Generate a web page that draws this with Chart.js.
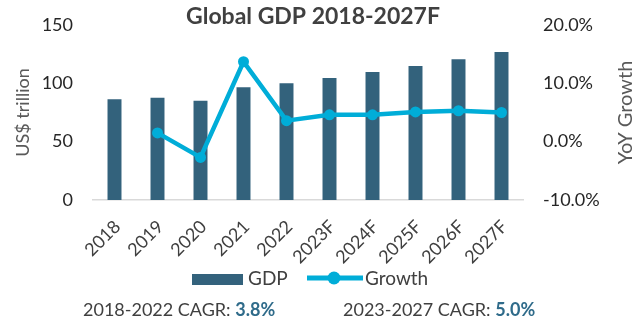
<!DOCTYPE html>
<html>
<head>
<meta charset="utf-8">
<title>Global GDP 2018-2027F</title>
<script src="https://cdn.jsdelivr.net/npm/chart.js@4.4.1/dist/chart.umd.min.js"></script>
<style>
    html, body { margin: 0; padding: 0; background: #fff; }
    #wrap { width: 633px; height: 320px; }
</style>
</head>
<body>
<div id="wrap"><canvas id="gdpChart" width="633" height="320"></canvas></div>
<script>
// Global GDP (US$ trillion) and year-on-year growth (%)
const years = ['2018', '2019', '2020', '2021', '2022', '2023F', '2024F', '2025F', '2026F', '2027F'];
const gdp = [86.3, 87.7, 85.1, 96.6, 100.0, 104.6, 109.7, 114.9, 120.6, 126.9];
const growth = [null, 1.5, -2.7, 13.7, 3.6, 4.6, 4.6, 5.1, 5.3, 5.0];

// axis ranges
const gdpAxis = { min: 0, max: 150, step: 50 };
const growthAxis = { min: -10, max: 20, step: 10 };

// CAGR footnote
const cagrPeriods = ['2018-2022', '2023-2027'];
const cagrValues = [3.8, 5.0];

const barColor = '#33627C';
const lineColor = '#00ADD8';
const textColor = '#404040';

Chart.defaults.font.family = 'Lato, "Open Sans", sans-serif';
Chart.defaults.color = textColor;

// title, right axis title (reads bottom-to-top), legend and the CAGR line
const extraText = {
    id: 'extraText',
    afterDraw(chart) {
        const ctx = chart.ctx;
        const area = chart.chartArea;
        const sets = chart.data.datasets;

        ctx.save();
        ctx.font = 'bold 23px Lato';
        ctx.fillStyle = textColor;
        ctx.textAlign = 'center';
        ctx.textBaseline = 'middle';
        ctx.fillText('Global GDP 2018-2027F', 313, 17);

        ctx.font = '20px Lato';
        ctx.fillStyle = '#595959';
        ctx.translate(626, (area.top + area.bottom) / 2);
        ctx.rotate(-Math.PI / 2);
        ctx.fillText('YoY Growth', 0, 0);
        ctx.restore();

        // legend
        ctx.save();
        const ly = 279;
        ctx.fillStyle = sets[0].backgroundColor;
        ctx.fillRect(192, ly - 5, 51, 11);
        ctx.strokeStyle = sets[1].borderColor;
        ctx.lineWidth = 5;
        ctx.beginPath();
        ctx.moveTo(307, ly - 1);
        ctx.lineTo(363, ly - 1);
        ctx.stroke();
        ctx.fillStyle = sets[1].borderColor;
        ctx.beginPath();
        ctx.arc(334, ly - 1, 6.5, 0, Math.PI * 2);
        ctx.fill();
        ctx.font = '19px Lato';
        ctx.fillStyle = textColor;
        ctx.textAlign = 'left';
        ctx.textBaseline = 'middle';
        ctx.fillText(sets[0].label, 248, ly);
        ctx.fillText(sets[1].label, 365, ly);
        ctx.restore();

        ctx.save();
        ctx.textAlign = 'left';
        ctx.textBaseline = 'alphabetic';
        const starts = [83, 343];
        cagrPeriods.forEach((p, i) => {
            let x = starts[i];
            const label = p + ' CAGR: ';
            ctx.font = '18px Lato';
            ctx.fillStyle = textColor;
            ctx.fillText(label, x, 316);
            x += ctx.measureText(label).width;
            ctx.font = 'bold 18px Lato';
            ctx.fillStyle = '#2F6B8A';
            ctx.fillText(cagrValues[i].toFixed(1) + '%', x, 316);
        });
        ctx.restore();
    }
};

const ctx = document.getElementById('gdpChart').getContext('2d');
const gdpChart = new Chart(ctx, {
    data: {
        labels: years,
        datasets: [
            {
                type: 'bar',
                label: 'GDP',
                data: gdp,
                yAxisID: 'y',
                backgroundColor: barColor,
                categoryPercentage: 1,
                barPercentage: 0.325,
                order: 1
            },
            {
                type: 'line',
                label: 'Growth',
                data: growth,
                yAxisID: 'y1',
                borderColor: lineColor,
                backgroundColor: lineColor,
                borderWidth: 4.5,
                pointRadius: 5.5,
                pointBorderWidth: 0,
                pointBackgroundColor: lineColor,
                tension: 0,
                order: 0
            }
        ]
    },
    options: {
        responsive: false,
        animation: false,
        layout: { padding: { left: 0, right: 0, top: 25, bottom: 44 } },
        plugins: {
            tooltip: { enabled: false },
            title: { display: false },
            legend: { display: false }
        },
        scales: {
            x: {
                grid: { display: false },
                border: { color: '#D9D9D9', width: 1.5 },
                ticks: {
                    maxRotation: 45,
                    minRotation: 45,
                    padding: 8,
                    labelOffset: 3,
                    font: { size: 18 },
                    color: textColor
                }
            },
            y: {
                position: 'left',
                min: gdpAxis.min,
                max: gdpAxis.max,
                afterFit: (scale) => { scale.width = 93; },
                // hidden tick marks keep the labels clear of the plot
                grid: { display: false, drawTicks: true, tickLength: 16 },
                border: { display: false },
                ticks: { stepSize: gdpAxis.step, padding: 4, font: { size: 18 }, color: '#262626' },
                title: {
                    display: true,
                    text: 'US$ trillion',
                    color: '#595959',
                    font: { size: 18 },
                    padding: { top: 12, bottom: 0 }
                }
            },
            y1: {
                position: 'right',
                min: growthAxis.min,
                max: growthAxis.max,
                afterFit: (scale) => { scale.width = 110; },
                grid: { display: false, drawTicks: true, tickLength: 16 },
                border: { display: false },
                ticks: {
                    stepSize: growthAxis.step,
                    padding: 4,
                    font: { size: 18 },
                    color: '#262626',
                    callback: (v) => v.toFixed(1) + '%'
                }
            }
        }
    },
    plugins: [extraText]
});
</script>
</body>
</html>
